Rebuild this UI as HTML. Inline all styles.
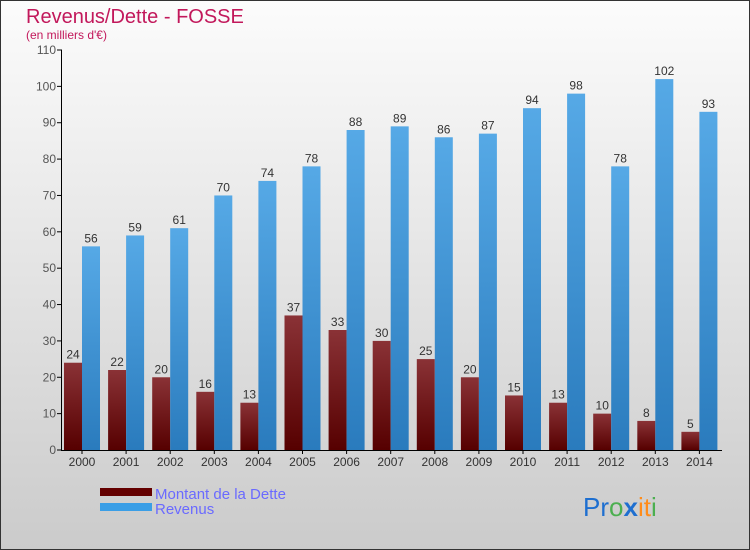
<!DOCTYPE html>
<html><head><meta charset="utf-8"><style>
body{margin:0;width:750px;height:550px;overflow:hidden;font-family:"Liberation Sans",sans-serif}
svg{display:block}
</style></head><body>
<svg width="750" height="550" xmlns="http://www.w3.org/2000/svg">
<defs>
<linearGradient id="bg" x1="0" y1="0" x2="0" y2="1"><stop offset="0" stop-color="#fcfcfc"/><stop offset="1" stop-color="#cbcbcb"/></linearGradient>
<linearGradient id="gd" x1="0" y1="0" x2="0" y2="1"><stop offset="0" stop-color="#8a3236"/><stop offset="1" stop-color="#560000"/></linearGradient>
<linearGradient id="gr" x1="0" y1="0" x2="0" y2="1"><stop offset="0" stop-color="#56a9e6"/><stop offset="1" stop-color="#2a7bbd"/></linearGradient>
</defs>
<rect x="0.5" y="0.5" width="749" height="549" fill="url(#bg)" stroke="#333"/>
<text x="26" y="23" font-size="20" fill="#c2185b">Revenus/Dette - FOSSE</text>
<text x="26" y="39" font-size="12" fill="#c2185b">(en milliers d'€)</text>
<g id="plot"></g>
<g>
<rect x="100" y="488" width="52" height="8" fill="#640000"/>
<text x="155" y="499" font-size="15" fill="#6a6aff">Montant de la Dette</text>
<rect x="100" y="503" width="52" height="8" fill="#3a9ee6"/>
<text x="155" y="514" font-size="15" fill="#6a6aff">Revenus</text>
</g>
<text x="583" y="516" font-size="26"><tspan fill="#1e6fd0">Pr</tspan><tspan fill="#4caf50">o</tspan><tspan fill="#1e6fd0" font-weight="bold">x</tspan><tspan fill="#ff8c1a">it</tspan><tspan fill="#4caf50">i</tspan></text>
</svg>
<script>
const years=["2000","2001","2002","2003","2004","2005","2006","2007","2008","2009","2010","2011","2012","2013","2014"];
const dette=[24,22,20,16,13,37,33,30,25,20,15,13,10,8,5];
const revenus=[56,59,61,70,74,78,88,89,86,87,94,98,78,102,93];
const yTicks=[0,10,20,30,40,50,60,70,80,90,100,110];
const NS="http://www.w3.org/2000/svg";
const g=document.getElementById('plot');
const y0=450,y1=50,vmax=110;
const y=v=>y0-(v/vmax)*(y0-y1);
const xc=i=>82+i*44.1;
function mk(t,a,txt){const e=document.createElementNS(NS,t);for(const k in a)e.setAttribute(k,a[k]);if(txt!==undefined)e.textContent=txt;g.appendChild(e);return e;}
yTicks.forEach(v=>{
 const l=mk('line',{x1:57,x2:62,y1:y(v),y2:y(v),stroke:'#000'});
 
 
 const t=mk('text',{x:56,y:y(v)+4,'font-size':12,fill:'#555','text-anchor':'end'},v);
 
 
});
years.forEach((yr,i)=>{
 const cx=xc(i);
 const b1=mk('rect',{x:cx-18,y:y(dette[i]),width:18,height:y0-y(dette[i]),fill:'url(#gd)'});
 
 
 const b2=mk('rect',{x:cx,y:y(revenus[i]),width:18,height:y0-y(revenus[i]),fill:'url(#gr)'});
 
 
 const t1=mk('text',{x:cx-9,y:y(dette[i])-4,'font-size':12,fill:'#333','text-anchor':'middle'},dette[i]);
 
 
 const t2=mk('text',{x:cx+9,y:y(revenus[i])-4,'font-size':12,fill:'#333','text-anchor':'middle'},revenus[i]);
 
 
 const tk=mk('line',{x1:cx,x2:cx,y1:y0,y2:y0+4,stroke:'#000'});
 
 
 const xl=mk('text',{x:cx,y:466,'font-size':12,fill:'#333','text-anchor':'middle'},yr);
 
 
});
const ax=mk('line',{x1:61.5,x2:61.5,y1:y1,y2:y0,stroke:'#000'});


const bx=mk('line',{x1:61,x2:722,y1:y0+0.5,y2:y0+0.5,stroke:'#000'});


</script>
</body></html>
